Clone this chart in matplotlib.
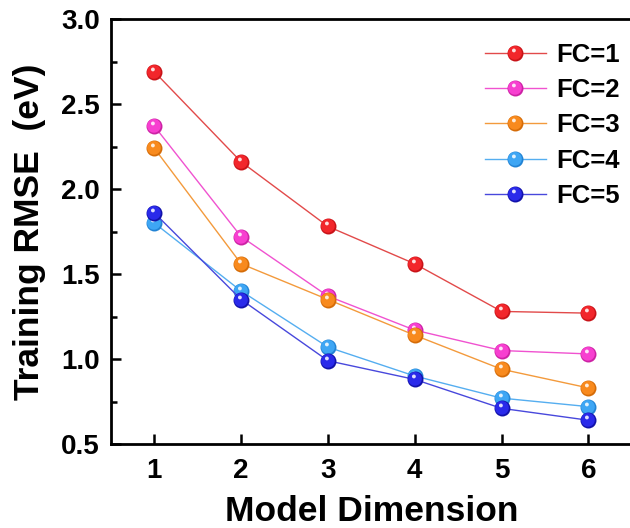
import matplotlib
matplotlib.use("Agg")
import matplotlib.pyplot as plt
import numpy as np
from matplotlib.path import Path
from matplotlib.ticker import MultipleLocator
from matplotlib.legend_handler import HandlerTuple

plt.rcParams['font.family'] = ['Liberation Sans', 'DejaVu Sans']
plt.rcParams['font.weight'] = 'bold'

dims = [1, 2, 3, 4, 5, 6]
fc1 = [2.69, 2.16, 1.78, 1.56, 1.28, 1.27]
fc2 = [2.37, 1.72, 1.37, 1.17, 1.05, 1.03]
fc3 = [2.24, 1.56, 1.35, 1.14, 0.94, 0.83]
fc4 = [1.80, 1.40, 1.07, 0.90, 0.77, 0.72]
fc5 = [1.86, 1.35, 0.99, 0.88, 0.71, 0.64]
labels = ['FC=1', 'FC=2', 'FC=3', 'FC=4', 'FC=5']

# base, shade, line colours for each series
base = ['#f2262b', '#f73fd0', '#f88a1e', '#3ea6f4', '#2a2aea']
dark = ['#c81318', '#cc22a4', '#d56c08', '#2283d4', '#1212aa']
linec = ['#e24a4a', '#f052d0', '#f39a3c', '#55aef0', '#4848dc']


def blob(cx, cy, r):
    # off-centre disc inside a fixed [-1, 1] box so marker scaling stays put
    t = np.linspace(0, 2 * np.pi, 40)
    verts = [(1, 1), (-1, -1)] + list(zip(cx + r * np.cos(t), cy + r * np.sin(t)))
    codes = [Path.MOVETO, Path.MOVETO, Path.MOVETO] + [Path.LINETO] * 38 + [Path.CLOSEPOLY]
    return Path(verts, codes)


mid_spot = blob(-0.07, 0.08, 0.86)
hi_spot = blob(-0.2, 0.38, 0.24)

fig = plt.figure(figsize=(6.3, 5.28), dpi=100)
ax = fig.add_axes([0.176, 0.159, 0.827, 0.805])

ms = 11.5
series = [fc1, fc2, fc3, fc4, fc5]
handles = []
for i, ys in enumerate(series):
    ln, = ax.plot(dims, ys, '-', color=linec[i], lw=1.0, marker='o', ms=ms,
                  mfc=dark[i], mec=dark[i], mew=0, zorder=3 + i * 0.1)
    m2, = ax.plot(dims, ys, ls='none', marker=mid_spot, ms=ms, mfc=base[i],
                  mew=0, zorder=3.01 + i * 0.1)
    m3, = ax.plot(dims, ys, ls='none', marker=hi_spot, ms=ms, mfc='white',
                  alpha=0.85, mew=0, zorder=3.02 + i * 0.1)
    handles.append((ln, m2, m3))

ax.legend(handles, labels, handler_map={tuple: HandlerTuple(ndivide=1, pad=0)},
          loc='upper right', bbox_to_anchor=(1.012, 0.985), frameon=False,
          fontsize=18.5, handlelength=2.4, labelspacing=0.43, handletextpad=0.4,
          borderaxespad=0.3)

ax.set_xlim(0.5, 6.5)
ax.set_ylim(0.5, 3.0)
ax.set_xticks(dims)
ax.yaxis.set_major_locator(MultipleLocator(0.5))
ax.yaxis.set_minor_locator(MultipleLocator(0.25))
ax.tick_params(axis='both', which='both', direction='in', width=1.8,
               labelsize=20, pad=8)
ax.tick_params(axis='x', which='major', pad=10)
ax.tick_params(which='major', length=7)
ax.tick_params(which='minor', length=4)
ax.tick_params(axis='x', which='minor', bottom=False)
for s in ax.spines.values():
    s.set_linewidth(2)

ax.set_xlabel('Model Dimension', fontsize=25.5, fontweight='bold', labelpad=8)
ax.set_ylabel('Training RMSE  (eV)', fontsize=25.5, fontweight='bold', labelpad=11)

fig.savefig('out.png', dpi=100)
